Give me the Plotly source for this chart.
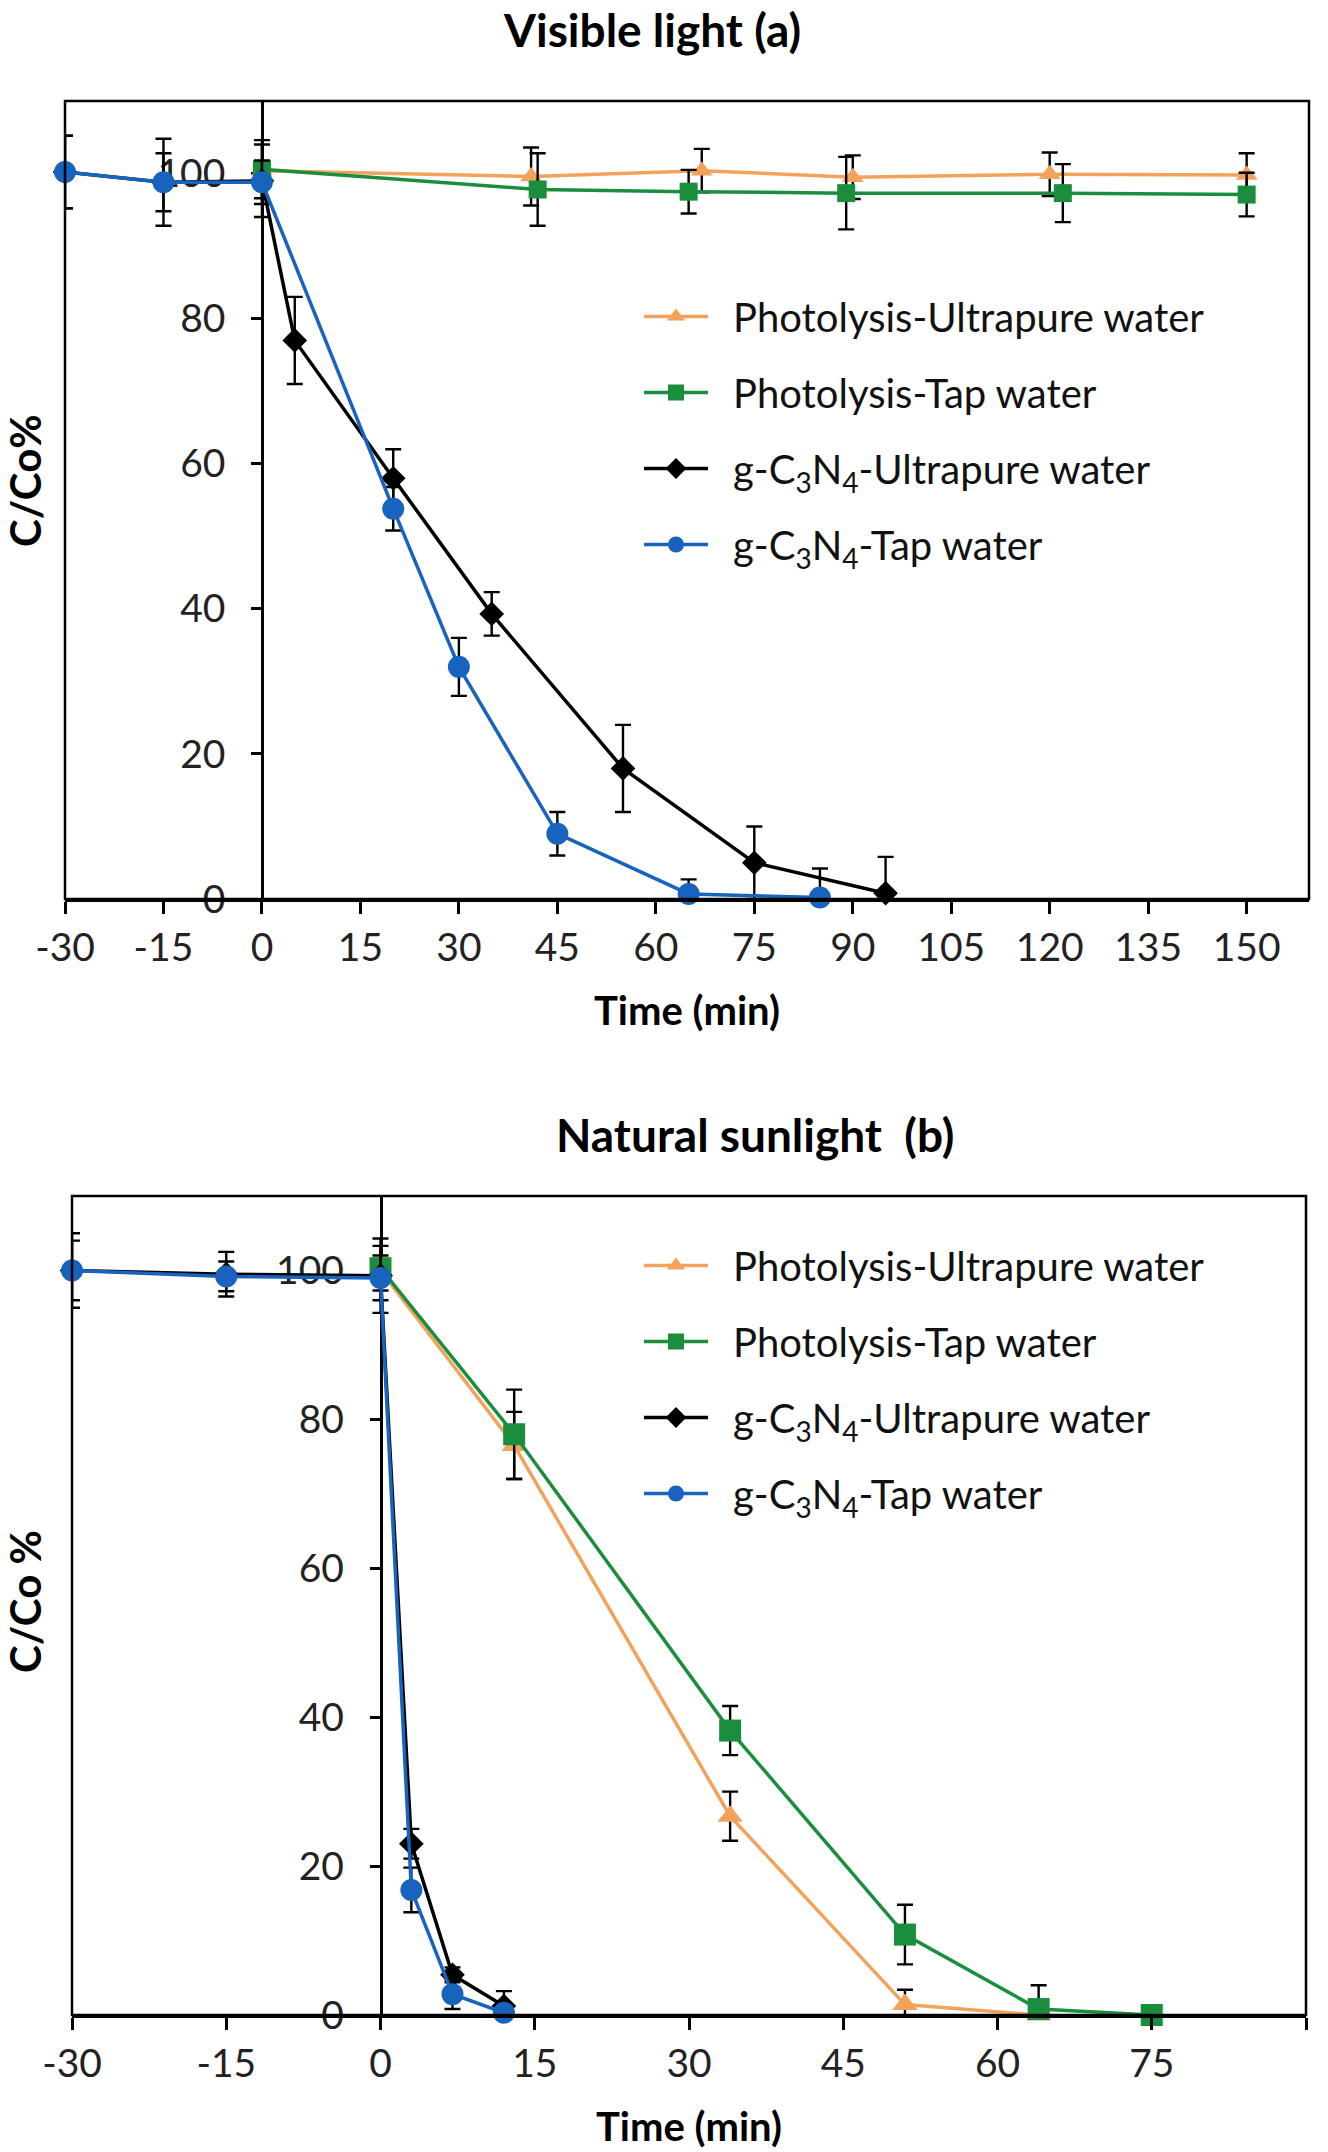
import plotly.graph_objects as go

# ---- panel (a): visible light ----
a_pu_x = [0, 41, 67, 90, 120, 150]
a_pu_y = [100.4, 99.6, 100.4, 99.5, 99.9, 99.8]
a_pu_e = [0, 4, 3, 3, 3, 3]

a_pt_x = [0, 42, 65, 89, 122, 150]
a_pt_y = [100.6, 97.8, 97.5, 97.3, 97.3, 97.1]
a_pt_e = [4, 5, 3, 5, 4, 3]

a_gu_x = [-30, -15, 0, 5, 20, 35, 55, 75, 95]
a_gu_y = [100.2, 98.8, 99, 77, 58, 39.3, 18, 5, 0.8]
a_gu_e = [5, 6, 5, 6, 4, 3, 6, 5, 5]

a_gt_x = [-30, -15, 0, 20, 30, 45, 65, 85]
a_gt_y = [100.2, 98.8, 98.8, 53.8, 32, 9, 0.7, 0.2]
a_gt_e = [5, 4, 3, 3, 4, 3, 2, 4]

# ---- panel (b): natural sunlight ----
b_pu_x = [0, 13, 34, 51, 64]
b_pu_y = [100, 76.5, 26.7, 1.4, 0]
b_pu_e = [0, 4.5, 3.3, 2, 0]

b_pt_x = [0, 13, 34, 51, 64, 75]
b_pt_y = [100.3, 78, 38.2, 10.8, 0.8, 0]
b_pt_e = [3, 6, 3.3, 4, 3.2, 0]

b_gu_x = [-30, -15, 0, 3, 7, 12]
b_gu_y = [100, 99.5, 99.3, 23, 5.4, 1.2]
b_gu_e = [5, 3, 5, 2, 1, 2]

b_gt_x = [-30, -15, 0, 3, 7, 12]
b_gt_y = [100, 99.2, 99, 16.8, 2.8, 0.3]
b_gt_e = [4, 2, 3, 3, 2, 1]

names = [
    "Photolysis-Ultrapure water",
    "Photolysis-Tap water",
    "g-C<sub>3</sub>N<sub>4</sub>-Ultrapure water",
    "g-C<sub>3</sub>N<sub>4</sub>-Tap water",
]
x_ticks_a = list(range(-30, 151, 15))
x_ticks_b = list(range(-30, 91, 15))
x_text_a = [str(v) for v in x_ticks_a]   # plain hyphen minus, like the original
x_text_b = [str(v) for v in x_ticks_b]
y_ticks = [0, 20, 40, 60, 80, 100]

W, H = 1328, 2152
FONT = "Lato"
ORANGE = "#F2A25A"
GREEN = "#1B8E3E"
BLACK = "#000000"
BLUE = "#1763BE"

styles = [
    (ORANGE, "triangle-up"),
    (GREEN, "square"),
    (BLACK, "diamond"),
    (BLUE, "circle"),
]

fig = go.Figure()


def add_panel(data, xa, ya, legend, msizes):
    for i, (x, y, e) in enumerate(data):
        color, sym = styles[i]
        fig.add_trace(
            go.Scatter(
                x=x, y=y, name="\u2002" + names[i], xaxis=xa, yaxis=ya,
                mode="lines+markers",
                line=dict(color=color, width=3.5),
                marker=dict(color=color, symbol=sym, size=msizes[i]),
                error_y=dict(type="data", array=e, color="black", thickness=2.4, width=8),
                cliponaxis=False,
                legend=legend,
                legendgroup=legend + str(i),
            )
        )


add_panel(
    [(a_pu_x, a_pu_y, a_pu_e), (a_pt_x, a_pt_y, a_pt_e),
     (a_gu_x, a_gu_y, a_gu_e), (a_gt_x, a_gt_y, a_gt_e)],
    "x", "y", "legend", [19, 18, 19, 22],
)
add_panel(
    [(b_pu_x, b_pu_y, b_pu_e), (b_pt_x, b_pt_y, b_pt_e),
     (b_gu_x, b_gu_y, b_gu_e), (b_gt_x, b_gt_y, b_gt_e)],
    "x2", "y2", "legend2", [22, 22, 19, 22],
)

a_dom = [65 / W, 1309 / W]
b_dom = [72 / W, 1306 / W]
a_rng = [-30, 159.5]
b_rng = [-30, 90]


def zero_pos(dom, rng):
    return dom[0] + (dom[1] - dom[0]) * (0 - rng[0]) / (rng[1] - rng[0])


tick_font = dict(family=FONT, size=39, color="#222222")
title_font = dict(family=FONT, size=40, color="black", weight="bold")

xcommon = dict(
    showline=True, linecolor="black", linewidth=2.5, ticks="outside",
    ticklen=12, tickwidth=2.5, tickcolor="black", showgrid=False,
    zeroline=False, tickfont=tick_font, title_font=title_font,
    title_standoff=30, automargin=False,
)
ycommon = dict(
    range=[0, 110], tickvals=y_ticks, showline=True, linecolor="black",
    linewidth=2.5, ticks="outside", ticklen=10, tickwidth=2.5,
    tickcolor="black", showgrid=False, zeroline=False, tickfont=tick_font,
    ticklabelstandoff=18, anchor="free", layer="below traces", automargin=False,
)
legend_common = dict(
    xanchor="left", yanchor="top",
    font=dict(family=FONT, size=40, color="#111111"),
    tracegroupgap=21, itemwidth=64, bgcolor="rgba(0,0,0,0)",
)

fig.update_layout(
    width=W, height=H,
    margin=dict(l=0, r=0, t=0, b=0, autoexpand=False),
    paper_bgcolor="white", plot_bgcolor="white",
    font=dict(family=FONT, color="black"),
    xaxis=dict(domain=a_dom, range=a_rng, tickvals=x_ticks_a, ticktext=x_text_a,
               anchor="y", title_text="Time (min)", **xcommon),
    yaxis=dict(domain=[1 - 899 / H, 1 - 101 / H],
               position=zero_pos(a_dom, a_rng), **ycommon),
    xaxis2=dict(domain=b_dom, range=b_rng, tickvals=x_ticks_b, ticktext=x_text_b,
                anchor="y2", title_text="Time (min)", **xcommon),
    yaxis2=dict(domain=[1 - 2015 / H, 1 - 1196 / H],
                position=zero_pos(b_dom, b_rng), **ycommon),
    legend=dict(x=639 / W, y=1 - 284 / H, **legend_common),
    legend2=dict(x=639 / W, y=1 - 1233 / H, **legend_common),
    showlegend=True,
)

# plot-area frames
for xa, ya in [("x", "y"), ("x2", "y2")]:
    fig.add_shape(type="rect", xref=xa + " domain", yref=ya + " domain",
                  x0=0, x1=1, y0=0, y1=1, line=dict(color="black", width=2.5),
                  layer="above")

# titles
ann_font = dict(family=FONT, size=46, color="black")
fig.add_annotation(text="<b>Visible light (a)</b>", x=652 / W, y=1,
                   xref="paper", yref="paper", showarrow=False,
                   xanchor="center", yanchor="top", font=ann_font)
fig.add_annotation(text="<b>Natural sunlight  (b)</b>", x=755 / W, y=1 - 1134 / H,
                   xref="paper", yref="paper", showarrow=False,
                   xanchor="center", yanchor="middle", font=ann_font)
ytitle_font = dict(family=FONT, size=42, color="black")
fig.add_annotation(text="<b>C/Co%</b>", x=25 / W, y=1 - 481 / H, textangle=-90,
                   xref="paper", yref="paper", showarrow=False,
                   xanchor="center", yanchor="middle", font=ytitle_font)
fig.add_annotation(text="<b>C/Co %</b>", x=25 / W, y=1 - 1602 / H, textangle=-90,
                   xref="paper", yref="paper", showarrow=False,
                   xanchor="center", yanchor="middle", font=ytitle_font)

# page body has a default 8px margin; drop it so the figure sits at the corner
fig.write_html(
    "out.html",
    config={"displayModeBar": False},
    post_script="document.body.style.margin='0px';",
)
